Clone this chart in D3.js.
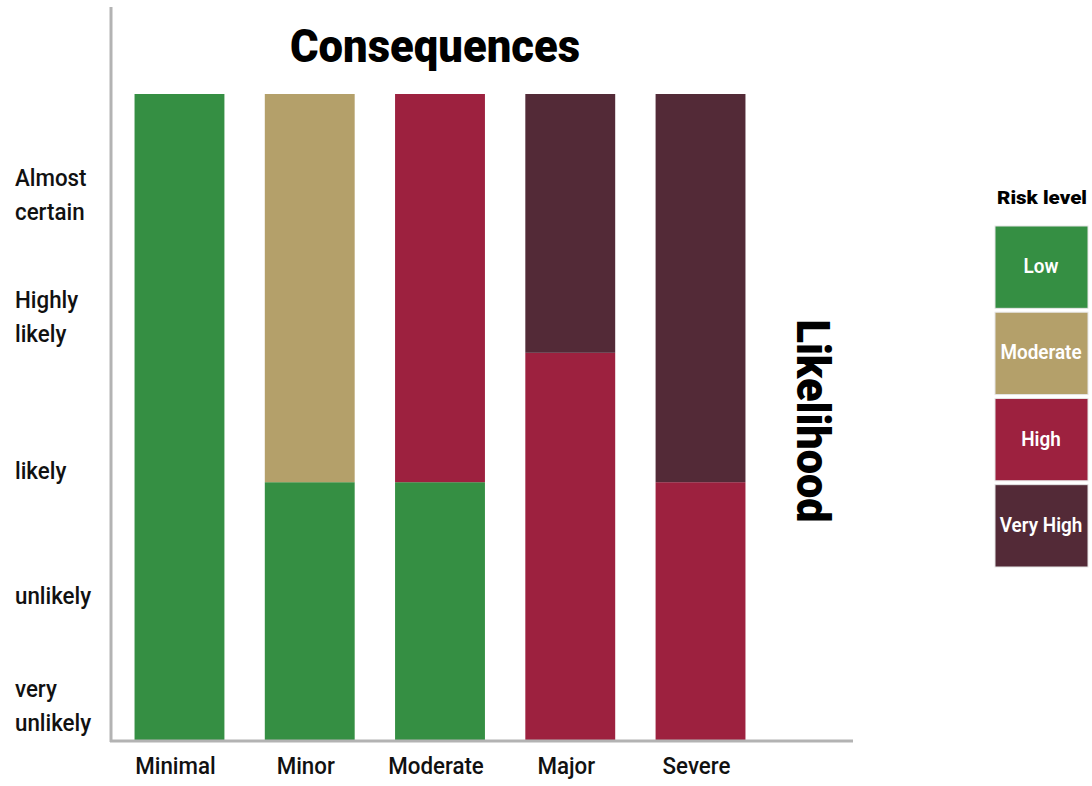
<!DOCTYPE html>
<html>
<head>
<meta charset="utf-8">
<script src="https://cdn.jsdelivr.net/npm/d3@7"></script>
<style>
  html, body { margin: 0; padding: 0; background: #fff; }
  svg { display: block; }
  text { font-family: "Roboto", "DejaVu Sans Condensed", sans-serif; }
</style>
</head>
<body>
<svg id="chart" width="1092" height="786"></svg>
<script>
// consequence categories along the x axis
const consequences = ['Minimal', 'Minor', 'Moderate', 'Major', 'Severe'];
// risk levels (stack order from bottom)
const riskLevels = ['Low', 'Moderate', 'High', 'Very High'];
const riskColors = ['#358f43', '#b4a06a', '#9d213f', '#532a37'];

// stacked segment sizes per consequence, in likelihood steps (0-5)
const lowValues      = [5, 2, 2, 0, 0];
const moderateValues = [0, 3, 0, 0, 0];
const highValues     = [0, 0, 3, 3, 2];
const veryHighValues = [0, 0, 0, 2, 3];

// likelihood labels and where they sit on the 0-5 scale
const likelihoodLabels = [['very', 'unlikely'], ['unlikely'], ['likely'], ['Highly', 'likely'], ['Almost', 'certain']];
const likelihoodPos = [0.27, 1.12, 2.09, 3.28, 4.22];

const svg = d3.select('#chart');
const SX = 0.93; // horizontal squeeze to mimic the condensed face

const rows = consequences.map((c, i) => ({
  consequence: c,
  'Low': lowValues[i],
  'Moderate': moderateValues[i],
  'High': highValues[i],
  'Very High': veryHighValues[i]
}));

const x = d3.scaleBand()
  .domain(consequences)
  .range([115, 765])
  .paddingInner(0.31)
  .paddingOuter(0.15);

const y = d3.scaleLinear()
  .domain([0, 5])
  .range([741, 94]);

const color = d3.scaleOrdinal().domain(riskLevels).range(riskColors);

const series = d3.stack().keys(riskLevels)(rows);

// bars
svg.append('g')
  .selectAll('g')
  .data(series)
  .join('g')
  .attr('fill', d => color(d.key))
  .selectAll('rect')
  .data(d => d.filter(s => s[1] > s[0]))
  .join('rect')
  .attr('x', d => x(d.data.consequence))
  .attr('width', x.bandwidth())
  .attr('y', d => y(d[1]))
  .attr('height', d => y(d[0]) - y(d[1]));

// axis lines
svg.append('line')
  .attr('x1', 111).attr('x2', 111)
  .attr('y1', 7).attr('y2', 742)
  .attr('stroke', '#b3b3b3').attr('stroke-width', 3);
svg.append('line')
  .attr('x1', 110).attr('x2', 853)
  .attr('y1', 741).attr('y2', 741)
  .attr('stroke', '#b3b3b3').attr('stroke-width', 3);

// x labels
svg.append('g')
  .selectAll('text')
  .data(consequences)
  .join('text')
  .attr('transform', d => `translate(${x(d) + x.bandwidth() / 2 - 4},774) scale(${SX},1)`)
  .attr('text-anchor', 'middle')
  .attr('font-size', 24)
  .attr('font-weight', 500)
  .attr('fill', '#111')
  .text(d => d);

// y labels
const yl = svg.append('g')
  .selectAll('text')
  .data(likelihoodLabels)
  .join('text')
  .attr('transform', (d, i) => `translate(15,${y(likelihoodPos[i]) + 8 - (d.length - 1) * 17}) scale(${SX},1)`)
  .attr('font-size', 24)
  .attr('font-weight', 500)
  .attr('fill', '#111');
yl.selectAll('tspan')
  .data(d => d)
  .join('tspan')
  .attr('x', 0)
  .attr('dy', (d, i) => i === 0 ? 0 : 34)
  .text(d => d);

// titles
svg.append('text')
  .attr('x', 435)
  .attr('y', 62)
  .attr('text-anchor', 'middle')
  .attr('font-size', 46)
  .attr('font-weight', 900)
  .attr('textLength', 290)
  .attr('lengthAdjust', 'spacingAndGlyphs')
  .attr('fill', '#000')
  .text('Consequences');

svg.append('text')
  .attr('transform', 'translate(797,421) rotate(90)')
  .attr('text-anchor', 'middle')
  .attr('font-size', 47)
  .attr('font-weight', 900)
  .attr('textLength', 203)
  .attr('lengthAdjust', 'spacingAndGlyphs')
  .attr('fill', '#000')
  .text('Likelihood');

// legend
const legend = svg.append('g');
legend.append('text')
  .attr('x', 1042)
  .attr('y', 204)
  .attr('text-anchor', 'middle')
  .attr('font-size', 19)
  .attr('font-weight', 900)
  .attr('textLength', 90)
  .attr('lengthAdjust', 'spacingAndGlyphs')
  .attr('fill', '#000')
  .text('Risk level');

const ly = d3.scaleBand()
  .domain(riskLevels)
  .range([226, 567])
  .paddingInner(0.045);

const items = legend.selectAll('g.item')
  .data(riskLevels)
  .join('g')
  .attr('class', 'item');
items.append('rect')
  .attr('x', 995)
  .attr('y', d => ly(d))
  .attr('width', 93)
  .attr('height', ly.bandwidth())
  .attr('fill', d => color(d))
  .attr('stroke', '#e6e6e6')
  .attr('stroke-width', 1);
items.append('text')
  .attr('transform', d => `translate(1041,${ly(d) + ly.bandwidth() / 2 + 6}) scale(0.9,1)`)
  .attr('text-anchor', 'middle')
  .attr('font-size', 21)
  .attr('font-weight', 600)
  .attr('fill', '#fff')
  .text(d => d);
</script>
</body>
</html>
